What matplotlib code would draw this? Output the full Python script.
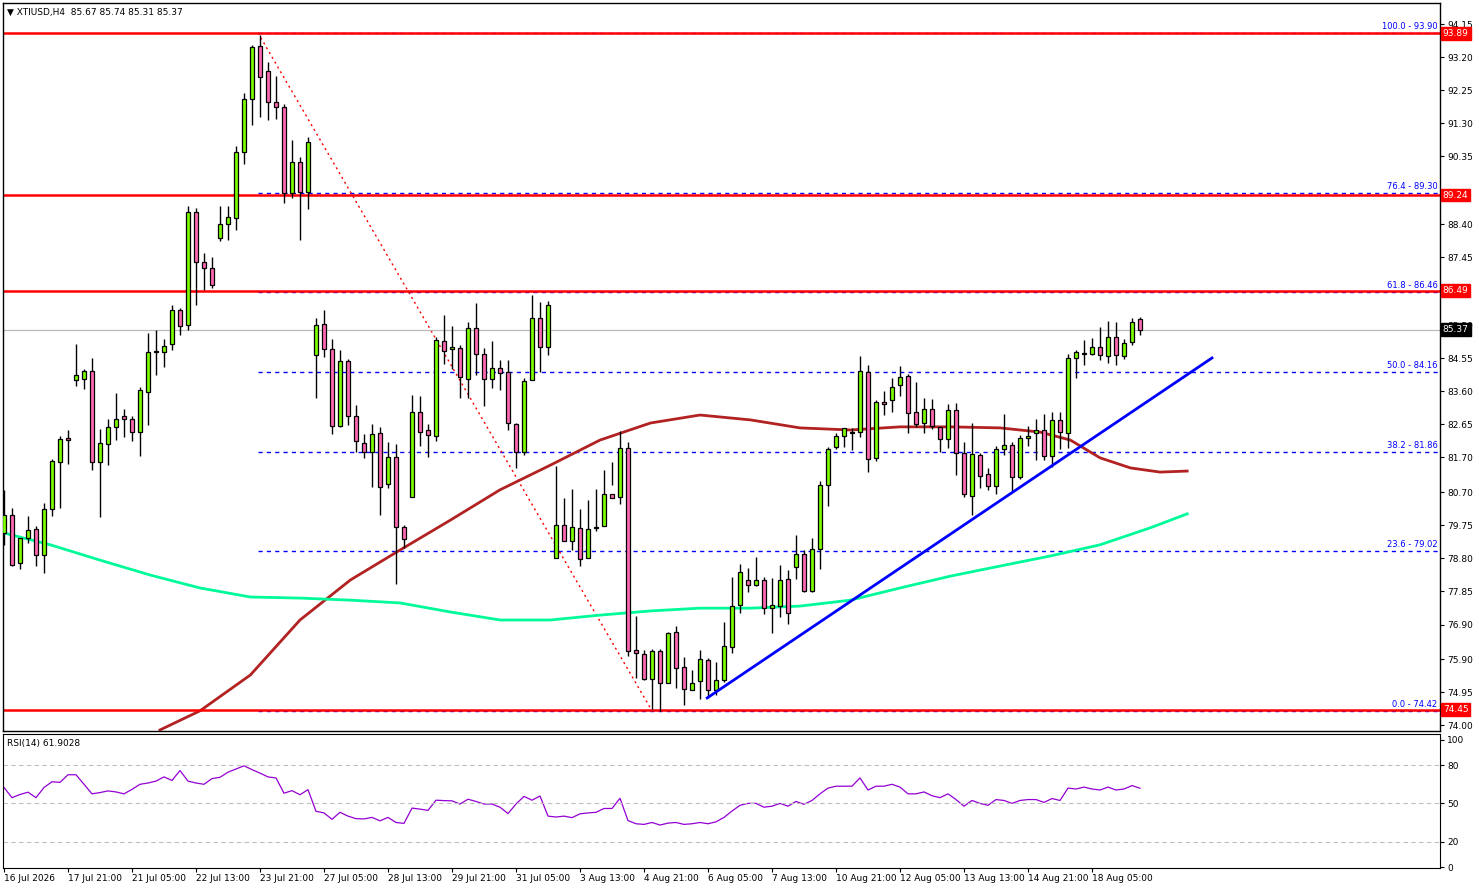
import matplotlib
matplotlib.use("Agg")
import matplotlib.pyplot as plt
import numpy as np

plt.rcParams['font.family'] = ['DejaVu Sans']

# OHLC for each H4 candle
OPEN = [79.53, 80.05, 78.68, 79.39, 79.65, 78.90, 80.22, 81.58, 82.25, 83.93,
        83.95, 84.19, 81.57, 82.09, 82.58, 82.90, 82.81, 82.43, 83.58, 84.73,
        84.73, 84.96, 85.94, 85.51, 88.76, 87.32, 87.15, 88.01, 88.41, 88.58,
        90.48, 92.00, 93.52, 92.81, 91.92, 91.77, 89.30, 90.19, 89.33, 84.65,
        85.54, 84.82, 82.61, 84.47, 82.89, 82.12, 81.86, 82.40, 80.94, 81.72,
        79.70, 80.56, 83.01, 82.49, 82.32, 85.05, 84.82, 84.85, 83.96, 85.42,
        84.68, 83.96, 84.27, 84.16, 82.66, 81.86, 83.93, 85.71, 84.88, 78.81,
        79.76, 79.30, 79.67, 78.81, 79.67, 79.73, 80.65, 80.56, 81.97, 76.17,
        76.05, 75.33, 76.14, 75.22, 76.69, 75.68, 75.02, 75.28, 75.88, 75.02,
        75.31, 76.26, 77.46, 78.18, 78.04, 78.18, 77.37, 77.43, 78.21, 78.55,
        78.93, 77.86, 79.07, 80.91, 81.99, 82.32, 82.41, 82.43, 84.16, 81.69,
        83.30, 83.35, 83.79, 84.04, 83.01, 82.69, 83.10, 82.58, 82.23, 83.07,
        81.83, 80.60, 81.77, 81.23, 80.88, 81.94, 82.06, 81.14, 82.26, 82.41,
        82.49, 81.74, 82.78, 82.41, 84.56, 84.68, 84.68, 84.88, 84.62, 85.16,
        84.62, 85.02, 85.67]
CLOSE = [80.05, 78.61, 79.39, 79.62, 78.90, 80.22, 81.60, 82.23, 82.20, 84.08,
         84.19, 81.57, 82.12, 82.58, 82.81, 82.81, 82.43, 83.64, 84.73, 84.74,
         84.90, 85.94, 85.48, 88.76, 87.32, 87.15, 86.66, 88.41, 88.61, 90.48,
         92.00, 93.50, 92.63, 91.92, 91.77, 89.30, 90.19, 89.33, 90.77, 85.51,
         84.82, 82.61, 84.47, 82.89, 82.17, 81.86, 82.38, 80.85, 81.72, 79.70,
         79.36, 83.01, 82.43, 82.35, 85.08, 84.76, 84.88, 84.01, 85.42, 84.68,
         83.96, 84.27, 84.13, 82.70, 81.86, 83.90, 85.71, 84.88, 86.08, 79.76,
         79.30, 79.70, 78.78, 79.64, 79.69, 80.65, 80.53, 81.97, 76.14, 76.08,
         75.33, 76.14, 75.22, 76.66, 75.65, 75.05, 75.22, 75.91, 75.02, 75.31,
         76.29, 77.43, 78.41, 78.04, 78.18, 77.37, 77.46, 78.18, 77.23, 78.93,
         77.86, 79.07, 80.91, 81.94, 82.32, 82.56, 82.42, 84.19, 81.66, 83.30,
         83.24, 83.73, 84.02, 82.98, 82.66, 83.10, 82.61, 82.23, 83.07, 81.83,
         80.65, 81.80, 81.17, 80.88, 81.94, 82.06, 81.14, 82.26, 82.32, 82.49,
         81.74, 82.78, 82.43, 84.56, 84.73, 84.69, 84.88, 84.65, 85.16, 84.65,
         85.00, 85.59, 85.37]
HIGH = [80.77, 80.25, 79.30, 80.02, 79.73, 80.39, 81.66, 82.32, 82.49, 84.96,
        84.24, 84.56, 82.52, 82.81, 83.55, 83.09, 82.89, 83.73, 85.28, 85.36,
        85.11, 86.08, 86.00, 88.93, 88.87, 87.58, 87.46, 88.93, 88.93, 90.65,
        92.18, 93.56, 93.85, 93.07, 92.66, 91.86, 90.82, 90.34, 90.91, 85.71,
        85.94, 85.11, 84.79, 84.53, 83.21, 82.38, 82.66, 82.58, 82.15, 82.09,
        79.76, 83.50, 83.47, 82.66, 85.16, 85.80, 85.48, 84.94, 85.59, 86.14,
        84.85, 85.05, 84.50, 84.50, 82.69, 83.99, 86.37, 86.17, 86.20, 81.46,
        80.54, 80.79, 80.22, 80.48, 80.79, 81.34, 81.57, 82.46, 82.15, 77.15,
        76.17, 76.20, 76.20, 76.69, 76.86, 75.97, 75.60, 76.17, 75.94, 75.82,
        76.97, 78.27, 78.64, 78.52, 78.84, 78.27, 78.24, 78.61, 78.47, 79.47,
        79.04, 79.39, 81.02, 82.00, 82.41, 82.52, 82.55, 84.62, 84.36, 83.35,
        83.61, 83.99, 84.33, 84.10, 83.87, 83.41, 83.38, 82.58, 83.24, 83.27,
        82.15, 82.69, 81.83, 81.40, 82.03, 82.95, 82.15, 82.35, 82.61, 82.81,
        82.95, 83.01, 83.01, 84.67, 84.79, 85.08, 85.13, 85.45, 85.62, 85.59,
        85.11, 85.71, 85.74]
LOW = [79.19, 78.58, 78.50, 79.24, 78.58, 78.38, 80.02, 80.25, 81.51, 83.75,
       83.67, 81.34, 79.99, 81.49, 82.20, 82.29, 82.17, 81.74, 82.63, 84.07,
       84.30, 84.79, 85.22, 85.36, 86.08, 86.51, 86.57, 87.92, 87.95, 88.24,
       90.14, 91.26, 91.49, 91.40, 91.43, 89.01, 89.16, 87.95, 88.84, 83.41,
       84.59, 82.38, 82.58, 82.63, 81.86, 81.69, 80.85, 80.05, 80.82, 78.06,
       79.10, 80.56, 82.03, 81.71, 82.17, 84.39, 84.24, 83.41, 83.41, 84.07,
       83.18, 83.70, 83.64, 82.49, 81.40, 81.77, 83.93, 84.16, 84.65, 78.96,
       79.53, 79.04, 78.58, 79.16, 79.59, 79.79, 80.91, 80.36, 75.99, 75.36,
       75.31, 74.47, 74.42, 75.31, 75.08, 74.59, 75.02, 74.76, 74.79, 74.87,
       75.25, 76.08, 77.23, 77.83, 78.01, 77.20, 76.66, 77.12, 76.92, 78.21,
       77.83, 77.83, 78.50, 80.31, 81.94, 82.00, 81.92, 82.29, 81.28, 81.60,
       82.92, 83.01, 83.47, 82.41, 82.58, 82.41, 82.52, 81.86, 81.97, 81.20,
       80.56, 80.05, 80.82, 80.77, 80.65, 81.77, 80.71, 81.08, 82.03, 81.63,
       81.63, 81.43, 81.94, 81.97, 83.99, 84.36, 84.65, 84.50, 84.42, 84.36,
       84.53, 84.94, 85.22]

RSI = [62.5, 54.5, 57.0, 58.8, 54.5, 62.5, 67.0, 66.5, 72.5, 72.5,
       65.0, 57.5, 58.5, 59.8, 59.0, 57.5, 61.0, 65.0, 66.0, 67.5,
       70.8, 68.0, 75.8, 67.5, 66.0, 65.0, 69.5, 70.5, 74.5, 77.0,
       79.5, 76.5, 73.8, 70.8, 70.0, 58.0, 60.0, 56.8, 60.8, 43.8,
       42.5, 37.5, 43.0, 40.0, 38.0, 37.8, 39.0, 36.3, 39.0, 35.0,
       34.3, 46.3, 45.5, 44.5, 52.5, 52.2, 52.0, 49.5, 53.3, 51.5,
       49.5, 49.5, 47.0, 42.0, 49.5, 55.5, 52.5, 55.8, 40.0, 39.3,
       40.0, 38.8, 41.8, 42.5, 43.0, 46.0, 46.0, 54.0, 36.5, 34.0,
       33.5, 35.0, 33.0, 34.5, 35.0, 33.5, 34.0, 35.0, 34.0, 35.5,
       39.0, 44.0, 48.5, 50.0, 50.0, 47.0, 47.8, 50.0, 47.8, 51.5,
       49.3, 52.3, 57.5, 62.0, 63.5, 63.5, 63.5, 70.0, 60.5, 63.5,
       63.5, 65.0, 62.8, 57.5, 57.5, 59.0, 56.0, 54.5, 57.5, 53.0,
       47.8, 52.3, 50.0, 48.5, 53.0, 52.3, 50.0, 52.3, 53.0, 53.0,
       50.8, 53.8, 52.3, 62.0, 61.3, 62.8, 61.3, 60.5, 62.8, 60.5,
       61.3, 64.0, 61.9]

# moving averages, read at sample points (candle index, price)
MA100_X = [19.5, 24.5, 30.8, 37, 43.3, 49.5, 55.8, 62, 68.3, 74.5, 80.8, 87,
           93.3, 99.5, 105.8, 112, 118.3, 124.5, 129.5, 133.3, 137, 140.8, 144.5, 147.9]
MA100_Y = [73.87, 74.42, 75.45, 77.03, 78.18, 79.04, 79.90, 80.77, 81.48, 82.20, 82.69, 82.92,
           82.78, 82.55, 82.49, 82.58, 82.58, 82.55, 82.43, 82.20, 81.69, 81.40, 81.28, 81.31]
MA200_X = [0, 5.8, 12, 18.3, 24.5, 30.8, 37, 43.3, 49.5, 55.8, 62, 68.3, 74.5,
           80.8, 87, 93.3, 99.5, 105.8, 112, 118.3, 124.5, 130.8, 137, 143.3, 147.9]
MA200_Y = [79.53, 79.19, 78.75, 78.32, 77.95, 77.69, 77.66, 77.60, 77.52, 77.26, 77.03, 77.03, 77.17,
           77.29, 77.37, 77.37, 77.43, 77.60, 77.95, 78.29, 78.58, 78.87, 79.19, 79.68, 80.08]

RED_LEVELS = [93.89, 89.24, 86.49, 74.45]
FIB_PCT = ["100.0", "76.4", "61.8", "50.0", "38.2", "23.6", "0.0"]
FIB_PRICE = [93.90, 89.30, 86.46, 84.16, 81.86, 79.02, 74.42]
LAST = 85.37

Y_TICKS = [94.15, 93.20, 92.25, 91.30, 90.35, 88.40, 87.45, 85.50, 84.55, 83.60,
           82.65, 81.70, 80.70, 79.75, 78.80, 77.85, 76.90, 75.90, 74.95, 74.00]
X_TICK_IDX = [0, 8, 16, 24, 32, 40, 48, 56, 64, 72, 80, 88, 96, 104, 112, 120, 128, 136]
X_TICK_LBL = ["16 Jul 2026", "17 Jul 21:00", "21 Jul 05:00", "22 Jul 13:00", "23 Jul 21:00",
              "27 Jul 05:00", "28 Jul 13:00", "29 Jul 21:00", "31 Jul 05:00", "3 Aug 13:00",
              "4 Aug 21:00", "6 Aug 05:00", "7 Aug 13:00", "10 Aug 21:00", "12 Aug 05:00",
              "13 Aug 13:00", "14 Aug 21:00", "18 Aug 05:00"]

W, H = 1479, 888
fig = plt.figure(figsize=(W / 100, H / 100), dpi=100)
ax = fig.add_axes([3 / W, (H - 731) / H, 1437 / W, 728 / H])
rx = fig.add_axes([3 / W, (H - 868) / H, 1437 / W, 134 / H])

XMIN, XMAX = -0.125, 179.5
FS = 6.5

# candles
x = np.arange(len(OPEN))
o, c, h, l = map(np.array, (OPEN, CLOSE, HIGH, LOW))
up = c >= o
ax.vlines(x, l, h, color="black", lw=1, zorder=3)
body = np.maximum(np.abs(c - o), 0.03)
ax.bar(x, body, bottom=np.minimum(o, c), width=0.62,
       color=np.where(up, "#7CFC00", "#FF69B4"), edgecolor="black", lw=0.9, zorder=4)

# moving averages
ax.plot(MA100_X, MA100_Y, color="#B22222", lw=2, zorder=2)
ax.plot(MA200_X, MA200_Y, color="#00FA9A", lw=2, zorder=2)

# fibonacci retracement
fib_start = 31.75
for pct, p in zip(FIB_PCT, FIB_PRICE):
    ax.plot([fib_start, XMAX], [p, p], color="#0000FF", lw=1, ls=(0, (3, 3)), zorder=1)
    ax.text(179.2, p + 0.06, f"{pct} - {p:.2f}", color="#0000FF", fontsize=6,
            ha="right", va="bottom", zorder=5)
ax.plot([fib_start, 81.0], [93.90, 74.42], color="red", lw=1, ls=(0, (1.5, 2.5)), zorder=1)

# horizontal support / resistance
for p in RED_LEVELS:
    ax.axhline(p, color="red", lw=1.8, zorder=2)
ax.axhline(LAST, color="#BBBBBB", lw=0.9, zorder=1)

# rising trendline
ax.plot([87.9, 151.0], [74.79, 84.56], color="#0000FF", lw=2, zorder=5)

ax.set_xlim(XMIN, XMAX)
ax.set_ylim(73.84, 94.76)
ax.yaxis.tick_right()
ax.set_yticks(Y_TICKS)
ax.set_yticklabels([f"{v:.2f}" for v in Y_TICKS])
ax.tick_params(axis="y", labelsize=FS, length=3, pad=2)
ax.set_xticks([])
for s in ax.spines.values():
    s.set_linewidth(1)

# price labels on the axis
for p in RED_LEVELS:
    ax.text(1.002, (p - 73.84) / (94.76 - 73.84), f"{p:.2f}", transform=ax.transAxes,
            color="white", fontsize=FS, va="center", ha="left", clip_on=False, zorder=10,
            bbox=dict(boxstyle="square,pad=0.2", fc="red", ec="red"))
ax.text(1.002, (LAST - 73.84) / (94.76 - 73.84), f"{LAST:.2f}", transform=ax.transAxes,
        color="white", fontsize=FS, va="center", ha="left", clip_on=False, zorder=10,
        bbox=dict(boxstyle="square,pad=0.2", fc="black", ec="black"))

ax.text(0.003, 0.993, "▼ XTIUSD,H4  85.67 85.74 85.31 85.37", transform=ax.transAxes,
        fontsize=FS, va="top", ha="left")

# RSI panel
rx.plot(x, RSI, color="#9400D3", lw=0.9)
for lv in (80, 50, 20):
    rx.axhline(lv, color="#C0C0C0", lw=0.8, ls=(0, (4, 3)))
rx.set_xlim(XMIN, XMAX)
rx.set_ylim(-0.75, 104.5)
rx.yaxis.tick_right()
rx.set_yticks([100, 80, 50, 20, 0])
rx.tick_params(axis="y", labelsize=FS, length=3, pad=2)
rx.set_xticks(X_TICK_IDX)
rx.set_xticklabels(X_TICK_LBL, ha="left")
rx.tick_params(axis="x", labelsize=FS, length=3, pad=1)
rx.text(0.003, 0.96, "RSI(14) 61.9028", transform=rx.transAxes, fontsize=FS, va="top")

fig.savefig("out.png", dpi=100)
